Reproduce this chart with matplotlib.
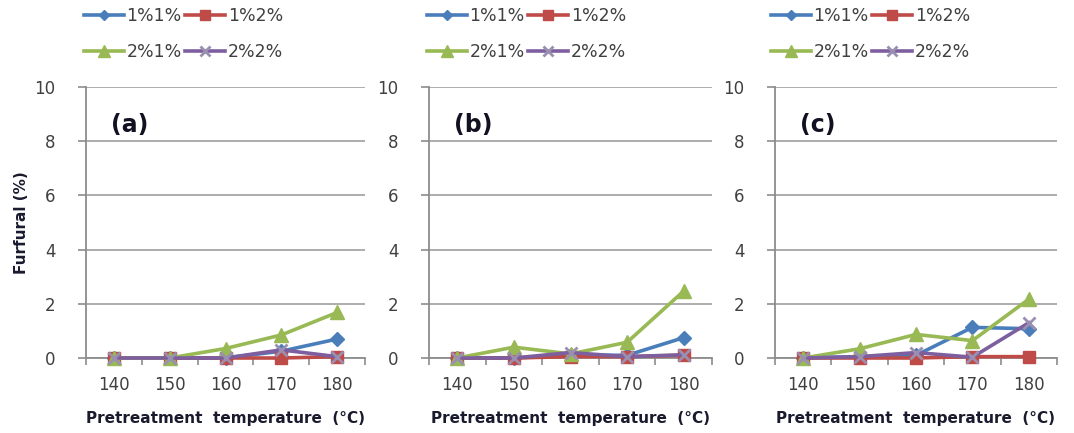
import matplotlib.pyplot as plt
import numpy as np

temps = ["140", "150", "160", "170", "180"]
series_names = ["1%1%", "1%2%", "2%1%", "2%2%"]
panel_labels = ["(a)", "(b)", "(c)"]

# furfural (%) per panel, one list per series
a_1p1 = [0.0, 0.0, 0.0, 0.25, 0.7]
a_1p2 = [0.0, 0.0, 0.0, 0.0, 0.05]
a_2p1 = [0.0, 0.0, 0.35, 0.85, 1.68]
a_2p2 = [0.0, 0.0, 0.0, 0.3, 0.05]

b_1p1 = [0.0, 0.0, 0.1, 0.1, 0.75]
b_1p2 = [0.0, 0.0, 0.05, 0.05, 0.1]
b_2p1 = [0.0, 0.4, 0.15, 0.58, 2.47]
b_2p2 = [0.0, 0.0, 0.2, 0.05, 0.12]

c_1p1 = [0.0, 0.05, 0.1, 1.13, 1.08]
c_1p2 = [0.0, 0.0, 0.0, 0.05, 0.05]
c_2p1 = [0.0, 0.34, 0.87, 0.64, 2.17]
c_2p2 = [0.0, 0.05, 0.2, 0.03, 1.3]

panels = [
    [a_1p1, a_1p2, a_2p1, a_2p2],
    [b_1p1, b_1p2, b_2p1, b_2p2],
    [c_1p1, c_1p2, c_2p1, c_2p2],
]

colors = ["#4A7EBB", "#BE4B48", "#98B954", "#7D5FA0"]
markers = ["D", "s", "^", "x"]
msizes = [7, 9, 10, 9]

W, H = 1074, 433
# axes boxes in pixels: left, right
boxes = [(86, 365), (429, 712), (775, 1057)]
legend_x = [84, 427, 771]
top_px, bot_px = 87, 358

fig = plt.figure(figsize=(W / 100, H / 100), dpi=100)

x = np.arange(1, len(temps) + 1)
for i, (l, r) in enumerate(boxes):
    ax = fig.add_axes([l / W, 1 - bot_px / H, (r - l) / W, (bot_px - top_px) / H])
    lines = []
    for vals, name, c, m, ms in zip(panels[i], series_names, colors, markers, msizes):
        ln, = ax.plot(x, vals, color=c, lw=2.6, marker=m, ms=ms, mew=2 if m == "x" else 1,
                      mec=c if m != "x" else "#9A8FB0", label=name, clip_on=False, zorder=3)
        lines.append(ln)
    ax.set_xlim(0.5, len(temps) + 0.5)
    ax.set_ylim(0, 10)
    ax.set_yticks(range(0, 11, 2))
    ax.set_xticks(x)
    ax.set_xticklabels(temps)
    ax.set_xticks(np.arange(0.5, len(temps) + 1, 1), minor=True)
    ax.tick_params(axis="x", which="major", length=0, pad=13, labelsize=12, labelcolor="#404040")
    ax.tick_params(axis="x", which="minor", length=5, color="#8C8C8C", width=1.2)
    ax.tick_params(axis="y", length=6, color="#8C8C8C", width=1.2, pad=16, labelsize=12,
                   labelcolor="#404040")
    ax.yaxis.grid(True, color="#A6A6A6", lw=1.3)
    ax.set_axisbelow(True)
    for s in ["top", "right"]:
        ax.spines[s].set_visible(False)
    for s in ["left", "bottom"]:
        ax.spines[s].set_color("#8C8C8C")
        ax.spines[s].set_linewidth(1.3)
    ax.text(0.09, 0.86, panel_labels[i], transform=ax.transAxes, fontsize=17,
            fontweight="bold", color="#111122", va="center", ha="left")
    ax.set_xlabel("Pretreatment  temperature  (\u00b0C)", fontsize=11, fontweight="bold",
                  color="#1a1a2e", labelpad=12)
    if i == 0:
        ax.set_ylabel("Furfural (%)", fontsize=11, fontweight="bold", color="#1a1a2e", labelpad=4)
    # legend fills by column, so order handles to get rows 1%1% 1%2% / 2%1% 2%2%
    order = [0, 2, 1, 3]
    ax.legend([lines[k] for k in order], [series_names[k] for k in order],
              loc="upper left", bbox_to_anchor=(legend_x[i] / W, 1 - 7 / H),
              bbox_transform=fig.transFigure, ncol=2, frameon=False, borderpad=0,
              borderaxespad=0, fontsize=12.5, handlelength=2.3, handletextpad=0.15,
              columnspacing=0.2, labelspacing=1.05, numpoints=1, markerscale=0.8,
              labelcolor="#404040")

fig.savefig("out.png", dpi=100)
